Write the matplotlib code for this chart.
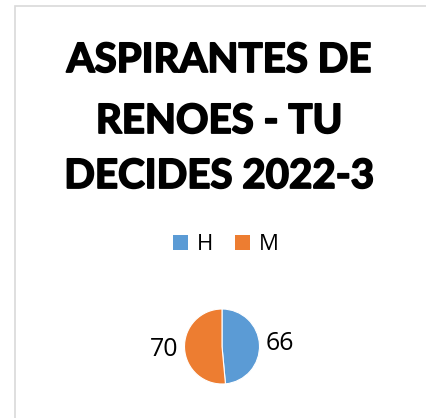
import matplotlib
matplotlib.use("Agg")
import matplotlib.pyplot as plt
import matplotlib.patheffects as pe
from matplotlib.patches import Rectangle, Patch

categories = ["H", "M"]
values = [66, 70]
colors = ["#5B9BD5", "#ED7D31"]
title_lines = ["ASPIRANTES DE", "RENOES - TU", "DECIDES 2022-3"]

W, H = 426, 418
fig = plt.figure(figsize=(W / 100, H / 100), dpi=100)
fig.patch.set_facecolor("white")

# chart border (cropped on right/bottom)
fig.patches.append(Rectangle((14.5 / W, -0.1), 1.2, 1 - 5.5 / H + 0.1,
                             transform=fig.transFigure, fill=False,
                             edgecolor="#d9d9d9", linewidth=1.2))

# title
baselines = [72, 133, 188]
for line, yb in zip(title_lines, baselines):
    fig.text(219 / W, 1 - yb / H, line, ha="center", va="baseline",
             fontsize=29, fontweight="bold", family="Lato", color="black",
             path_effects=[pe.withStroke(linewidth=1.3, foreground="black")])

# pie
cx, cy, r = 222, 346.5, 37.5
half = 70
ax = fig.add_axes([(cx - half) / W, (H - cy - half) / H, 2 * half / W, 2 * half / H])
lim = half / r
wedges, texts = ax.pie(values, colors=colors, startangle=90, counterclock=False,
                       labels=[str(v) for v in values], labeldistance=1.55,
                       wedgeprops=dict(edgecolor="white", linewidth=0.8),
                       textprops=dict(fontsize=18, family="Open Sans", color="black"))
for t in texts:
    t.set_ha("center")
    t.set_va("center")
ax.set_xlim(-lim, lim)
ax.set_ylim(-lim, lim)
ax.set_aspect("equal")
ax.axis("off")

handles = [Patch(facecolor=c, edgecolor="none", label=l) for c, l in zip(colors, categories)]
fig.legend(handles=handles, loc="center", bbox_to_anchor=(226 / W, 1 - 245 / H),
           ncol=2, frameon=False, prop=dict(family="Open Sans", size=16),
           handlelength=0.65, handleheight=0.65, handletextpad=0.4, columnspacing=1.0)

fig.savefig("out.png", dpi=100, facecolor="white")
